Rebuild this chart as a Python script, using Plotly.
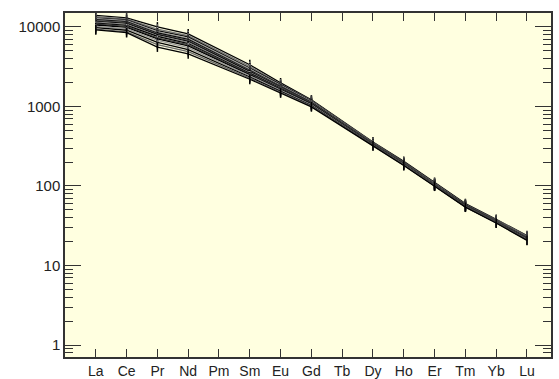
import plotly.graph_objects as go

elements = ["La", "Ce", "Pr", "Nd", "Pm", "Sm", "Eu", "Gd", "Tb", "Dy", "Ho", "Er", "Tm", "Yb", "Lu"]

# chondrite-normalised values (None = not analysed: Pm, Tb)
s01 = [14000, 13000, 10000, 8200, None, 3350, 1980, 1210, None, 358, 204, 111, 60.0, 38.0, 23.8]
s02 = [13500, 12600, 9400, 7800, None, 3200, 1920, 1190, None, 352, 200, 109, 59.0, 37.5, 23.5]
s03 = [13000, 12300, 9000, 7500, None, 3050, 1880, 1170, None, 348, 198, 108, 58.5, 37.0, 23.0]
s04 = [12700, 12000, 8700, 7200, None, 2950, 1840, 1150, None, 345, 196, 107, 58.0, 36.5, 22.8]
s05 = [12400, 11700, 8400, 7000, None, 2850, 1800, 1130, None, 342, 194, 106, 57.5, 36.2, 22.5]
s06 = [12100, 11400, 8200, 6800, None, 2800, 1770, 1120, None, 340, 193, 105, 57.0, 36.0, 22.3]
s07 = [11800, 11100, 8000, 6600, None, 2740, 1740, 1110, None, 338, 192, 104.5, 57.0, 35.8, 22.2]
s08 = [11500, 10800, 7800, 6400, None, 2680, 1710, 1100, None, 336, 191, 104, 56.5, 35.6, 22.0]
s09 = [11200, 10500, 7600, 6200, None, 2620, 1680, 1090, None, 334, 190, 103, 56.0, 35.4, 21.8]
s10 = [10900, 10200, 7300, 6000, None, 2560, 1650, 1080, None, 332, 189, 102.5, 56.0, 35.2, 21.7]
s11 = [10600, 9900, 7100, 5800, None, 2500, 1620, 1070, None, 330, 188, 102, 55.5, 35.0, 21.5]
s12 = [10200, 9500, 6800, 5500, None, 2430, 1590, 1050, None, 328, 186, 101, 55.0, 34.8, 21.3]
s13 = [9800, 9100, 6400, 5200, None, 2350, 1550, 1030, None, 325, 184, 100.5, 54.8, 34.6, 21.1]
s14 = [9400, 8700, 6000, 4900, None, 2270, 1510, 1010, None, 322, 182, 100, 54.5, 34.4, 20.9]
s15 = [9200, 8500, 5600, 4600, None, 2200, 1480, 990, None, 320, 181, 99.5, 54.2, 34.2, 20.7]

samples = [s01, s02, s03, s04, s05, s06, s07, s08, s09, s10, s11, s12, s13, s14, s15]
colors = ["#000000", "#777777", "#111111", "#999999", "#000000", "#555555", "#000000",
          "#888888", "#000000", "#444444", "#000000", "#999999", "#000000", "#666666", "#000000"]

y_ticks = [1, 10, 100, 1000, 10000]
y_ticktext = ["1", "10", "100", "1000", "10000"]

xi = list(range(len(elements)))

fig = go.Figure()
for vals, c in zip(samples, colors):
    fig.add_trace(go.Scatter(
        x=xi, y=vals, mode="lines+markers", connectgaps=True,
        line=dict(color=c, width=1.3),
        marker=dict(symbol="line-ns-open", size=7, line=dict(color=c, width=1.5)),
        showlegend=False, hoverinfo="skip"))

axis_col = "#333333"
fig.update_layout(
    width=559, height=379,
    margin=dict(l=65, r=8, t=13, b=22),
    paper_bgcolor="white",
    plot_bgcolor="#FFFFE0",
    font=dict(family="Liberation Sans, Arial, sans-serif", size=14, color="#222222"),
    xaxis=dict(
        range=[-1.0, 14.78], tickmode="array", tickvals=xi, ticktext=elements,
        ticks="inside", ticklen=8, tickwidth=1.2, tickcolor=axis_col,
        showline=True, linecolor=axis_col, linewidth=1.5, mirror="ticks",
        showgrid=False, zeroline=False, automargin=False,
        tickfont=dict(size=14)),
    yaxis=dict(
        type="log", range=[-0.151, 4.176], tickmode="array",
        tickvals=y_ticks, ticktext=y_ticktext,
        ticks="inside", ticklen=16, tickwidth=1.2, tickcolor=axis_col,
        showline=True, linecolor=axis_col, linewidth=1.5, mirror="ticks",
        showgrid=False, zeroline=False, automargin=False,
        tickfont=dict(size=15),
        minor=dict(ticks="inside", ticklen=8, tickwidth=1, tickcolor=axis_col,
                   dtick="D1", showgrid=False)),
)

fig.write_html("out.html", config={"displayModeBar": False},
               post_script="document.body.style.margin='0';")
